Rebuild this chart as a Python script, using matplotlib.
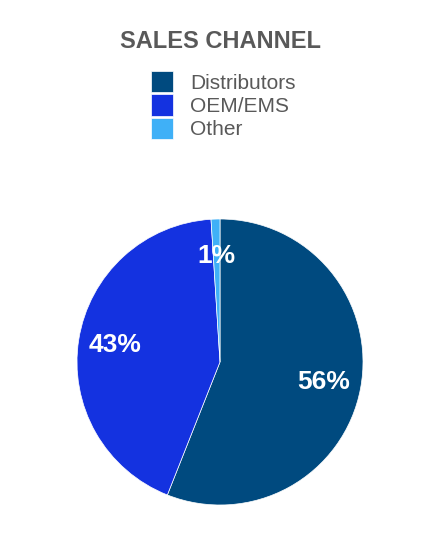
import matplotlib.pyplot as plt

plt.rcParams['font.family'] = ['Liberation Sans', 'DejaVu Sans']

channels = ['Distributors', 'OEM/EMS', 'Other']
shares = [56, 43, 1]
colors = ['#004a7f', '#1432e0', '#3fb0f7']

fig = plt.figure(figsize=(4.4, 5.56), dpi=100)

fig.text(0.5, 1 - 41 / 556, 'SALES CHANNEL', ha='center', va='center',
         fontsize=17, fontweight='bold', color='#595959')

# Pie axes, centred at (220, 362) px with radius ~143 px
ax = fig.add_axes([77 / 440, 51 / 556, 286 / 440, 286 / 556])
wedges, texts, autotexts = ax.pie(
    shares, colors=colors, startangle=90, counterclock=False,
    autopct='%d%%', pctdistance=0.74,
    wedgeprops=dict(edgecolor='white', linewidth=0.5),
    textprops=dict(color='white', fontsize=19, fontweight='bold'))
ax.set_xlim(-1, 1)
ax.set_ylim(-1, 1)
ax.set_aspect('equal')

fig.legend(wedges, channels, loc='upper left',
           bbox_to_anchor=(151 / 440, 1 - 71 / 556),
           frameon=False, fontsize=15, labelcolor='#595959',
           handlelength=1.06, handleheight=1.2, handletextpad=0.82,
           labelspacing=0.08, borderpad=0, borderaxespad=0)

plt.savefig('out.png', dpi=100)
